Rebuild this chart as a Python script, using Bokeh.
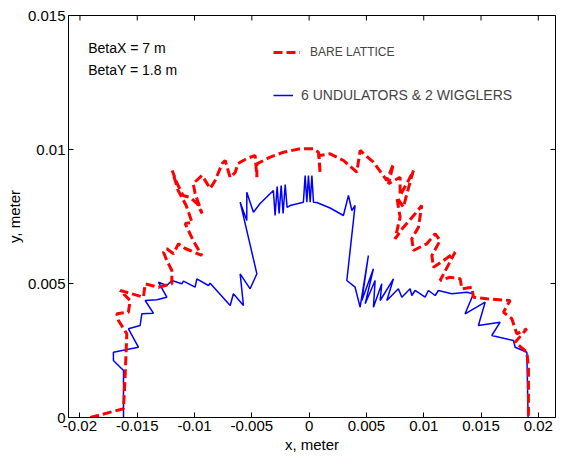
import math
from bokeh.plotting import figure
from bokeh.models import Range1d, FixedTicker, Label, Legend, LegendItem
from bokeh.embed import file_html
from bokeh.resources import INLINE

# Bare lattice dynamic aperture (red dashed)
bare_x = [-0.0191, -0.0162, -0.01606, -0.01591, -0.01664, -0.01678, -0.01577, -0.01562, -0.01649,
          -0.01446, -0.01431, -0.01315, -0.01198, -0.01198, -0.01242, -0.01271, -0.01242, -0.01184,
          -0.01141, -0.01082, -0.01038, -0.00936, -0.01012, -0.01082, -0.01021, -0.01073, -0.01143,
          -0.01195, -0.01152, -0.0110, -0.01038, -0.00977, -0.00934, -0.00995, -0.01012, -0.00934,
          -0.00864, -0.0082, -0.00759, -0.00733, -0.00689, -0.00646, -0.0062, -0.00544, -0.00471,
          -0.00456, -0.00456, -0.0034, -0.00224, -0.00079, 0.00038, 0.00081, 0.00096, 0.00087,
          0.00183, 0.00299, 0.00416, 0.00445, 0.00561, 0.00678, 0.00736, 0.00692, 0.00794, 0.00794,
          0.00867, 0.0091, 0.00853, 0.00823, 0.00765, 0.00794, 0.0075, 0.00823, 0.00925, 0.00983,
          0.00954, 0.00896, 0.0091, 0.01027, 0.0110, 0.01143, 0.01071, 0.01085, 0.01172, 0.01274,
          0.01143, 0.0123, 0.01318, 0.01333, 0.0142, 0.01434, 0.01551, 0.01754, 0.01696, 0.01769,
          0.01812, 0.0190, 0.01798, 0.0190, 0.01914, 0.01914]
bare_y = [0.0, 0.000325, 0.001504, 0.003123, 0.003619, 0.003869, 0.003929, 0.004365, 0.004739,
          0.004489, 0.004988, 0.004862, 0.004988, 0.005485, 0.005858, 0.006168, 0.006294, 0.006108,
          0.006481, 0.006306, 0.006231, 0.006045, 0.006604, 0.007239, 0.007276, 0.00791, 0.00847,
          0.009216, 0.008731, 0.008284, 0.008209, 0.007985, 0.007612, 0.008358, 0.008731, 0.00903,
          0.008545, 0.008843, 0.009478, 0.00959, 0.008955, 0.009142, 0.009478, 0.009664, 0.009776,
          0.008966, 0.009466, 0.009713, 0.009899, 0.010026, 0.010026, 0.009899, 0.009093, 0.009776,
          0.00984, 0.00959, 0.009153, 0.009963, 0.009526, 0.008843, 0.009466, 0.00872, 0.008966, 0.008284,
          0.008843, 0.009216, 0.008347, 0.007847, 0.00822, 0.007474, 0.006668, 0.007101, 0.0076, 0.00791,
          0.007101, 0.006668, 0.006231, 0.006481, 0.006854, 0.006604, 0.006045, 0.005608, 0.005858, 0.006168,
          0.005112, 0.005235, 0.005175, 0.004802, 0.004862, 0.004489, 0.004429, 0.004366, 0.003929, 0.003683,
          0.003123, 0.00331, 0.00281, 0.002437, 0.001877, 0.0]

# 6 undulators & 2 wigglers dynamic aperture (blue solid)
und_x = [-0.0162, -0.0162, -0.01708, -0.01708, -0.0149, -0.01577, -0.01475, -0.0146, -0.01359,
         -0.01431, -0.01329, -0.01242, -0.01315, -0.01242, -0.01198, -0.01111, -0.01097, -0.00995,
         -0.0098, -0.00879, -0.00864, -0.00689, -0.00661, -0.00573, -0.00602, -0.00515, -0.00456,
         -0.00602, -0.00544, -0.00544, -0.00486, -0.00428, -0.00312, -0.00297, -0.00279, -0.00262,
         -0.00244, -0.00227, -0.00209, -0.00192, -0.00166, -0.0005, -0.00035, -0.0002, -0.00006,
         0.00009, 0.00024, 0.00038, 0.00067, 0.00183, 0.00299, 0.00343, 0.00373, 0.00401, 0.00329,
         0.00401, 0.00445, 0.00517, 0.0046, 0.00561, 0.00489, 0.00576, 0.00561, 0.00634, 0.0062,
         0.00736, 0.00678, 0.00779, 0.00809, 0.00881, 0.00896, 0.00925, 0.01012, 0.01041, 0.0110,
         0.01128, 0.01245, 0.01376, 0.01434, 0.01361, 0.01536, 0.01477, 0.01667, 0.01594, 0.01783,
         0.01798, 0.0190, 0.01911]
und_y = [0.0, 0.001754, 0.002127, 0.002437, 0.002623, 0.00331, 0.003433, 0.00387, 0.003892,
         0.004366, 0.004392, 0.004489, 0.005049, 0.004925, 0.005112, 0.004989, 0.005086, 0.004862,
         0.005175, 0.004925, 0.005011, 0.004179, 0.004616, 0.004179, 0.005362, 0.004802, 0.005362,
         0.008034, 0.007351, 0.008407, 0.00766, 0.007985, 0.00847, 0.007537, 0.008619, 0.007612,
         0.008657, 0.007612, 0.008694, 0.007836, 0.00791, 0.008034, 0.00903, 0.008034, 0.00903,
         0.008034, 0.00903, 0.008034, 0.008022, 0.007817, 0.007537, 0.008284, 0.007724, 0.00791, 0.005112,
         0.004862, 0.004116, 0.006045, 0.004366, 0.005548, 0.004243, 0.005112, 0.004116, 0.004989, 0.004366,
         0.005175, 0.004366, 0.004802, 0.004489, 0.004802, 0.004552, 0.004739, 0.004489, 0.004739, 0.004552,
         0.004739, 0.004615, 0.004675, 0.004615, 0.00387, 0.004302, 0.003433, 0.003556, 0.00306, 0.002873,
         0.002623, 0.002437, 0.0]

x_ticks = [-0.02, -0.015, -0.01, -0.005, 0.0, 0.005, 0.01, 0.015, 0.02]
x_tick_labels = ["-0.02", "-0.015", "-0.01", "-0.005", "0", "0.005", "0.01", "0.015", "0.02"]
y_ticks = [0.0, 0.005, 0.01, 0.015]
y_tick_labels = ["0", "0.005", "0.01", "0.015"]
x_lim = (-0.021, 0.0215)
y_lim = (0.0, 0.015)

FONT = "Liberation Sans"

p = figure(width=561, height=458, output_backend="svg", toolbar_location=None,
           x_range=Range1d(*x_lim), y_range=Range1d(*y_lim),
           min_border_left=68, min_border_right=6, min_border_top=15, min_border_bottom=41,
           x_axis_label="x, meter", y_axis_label="y, meter")
p.grid.visible = False
p.outline_line_color = "black"
p.outline_line_width = 1
p.background_fill_color = "white"
p.border_fill_color = "white"

p.xaxis.ticker = FixedTicker(ticks=x_ticks)
p.xaxis.major_label_overrides = {t: l for t, l in zip(x_ticks, x_tick_labels)}
p.yaxis.ticker = FixedTicker(ticks=y_ticks)
p.yaxis.major_label_overrides = {t: l for t, l in zip(y_ticks, y_tick_labels)}

for ax in p.axis:
    ax.major_tick_in = 5
    ax.major_tick_out = 0
    ax.minor_tick_line_color = None
    ax.axis_line_color = "black"
    ax.major_tick_line_color = "black"
    ax.major_label_text_font = FONT
    ax.major_label_text_font_size = "15px"
    ax.major_label_text_color = "black"
    ax.axis_label_text_font = FONT
    ax.axis_label_text_font_size = "15px"
    ax.axis_label_text_font_style = "normal"
    ax.axis_label_text_color = "black"
    ax.major_label_standoff = 3
    ax.axis_label_standoff = 2

# box ticks on top and right edges (inward), derived from the tick lists
p.scatter(x_ticks, [y_lim[1]] * len(x_ticks), marker="dash", angle=math.pi / 2,
          size=10, line_color="black", line_width=1)
p.scatter([x_lim[1]] * len(y_ticks), y_ticks, marker="dash",
          size=10, line_color="black", line_width=1)

r_blue = p.line(und_x, und_y, line_color="#0000ff", line_width=1.5)
r_red = p.line(bare_x, bare_y, line_color="#ff0000", line_width=3, line_dash="9 4")

leg_red = Legend(items=[LegendItem(label="BARE LATTICE", renderers=[r_red])],
                 location=(205, 355), padding=0, margin=0,
                 glyph_width=27, glyph_height=20, label_standoff=10,
                 label_text_font=FONT, label_text_font_size="12px",
                 border_line_color=None, background_fill_alpha=0)
leg_blue = Legend(items=[LegendItem(label="6 UNDULATORS & 2 WIGGLERS", renderers=[r_blue])],
                  location=(205, 312), padding=0, margin=0,
                  glyph_width=20, glyph_height=20, label_standoff=8,
                  label_text_font=FONT, label_text_font_size="14px",
                  border_line_color=None, background_fill_alpha=0)
p.add_layout(leg_red)
p.add_layout(leg_blue)

p.add_layout(Label(x=-0.01928, y=0.0138, text="BetaX = 7 m", text_font=FONT,
                   text_font_size="14px", text_baseline="middle", text_color="black"))
p.add_layout(Label(x=-0.01928, y=0.01295, text="BetaY = 1.8 m", text_font=FONT,
                   text_font_size="14px", text_baseline="middle", text_color="black"))

open("out.html", "w").write(file_html(p, INLINE))
